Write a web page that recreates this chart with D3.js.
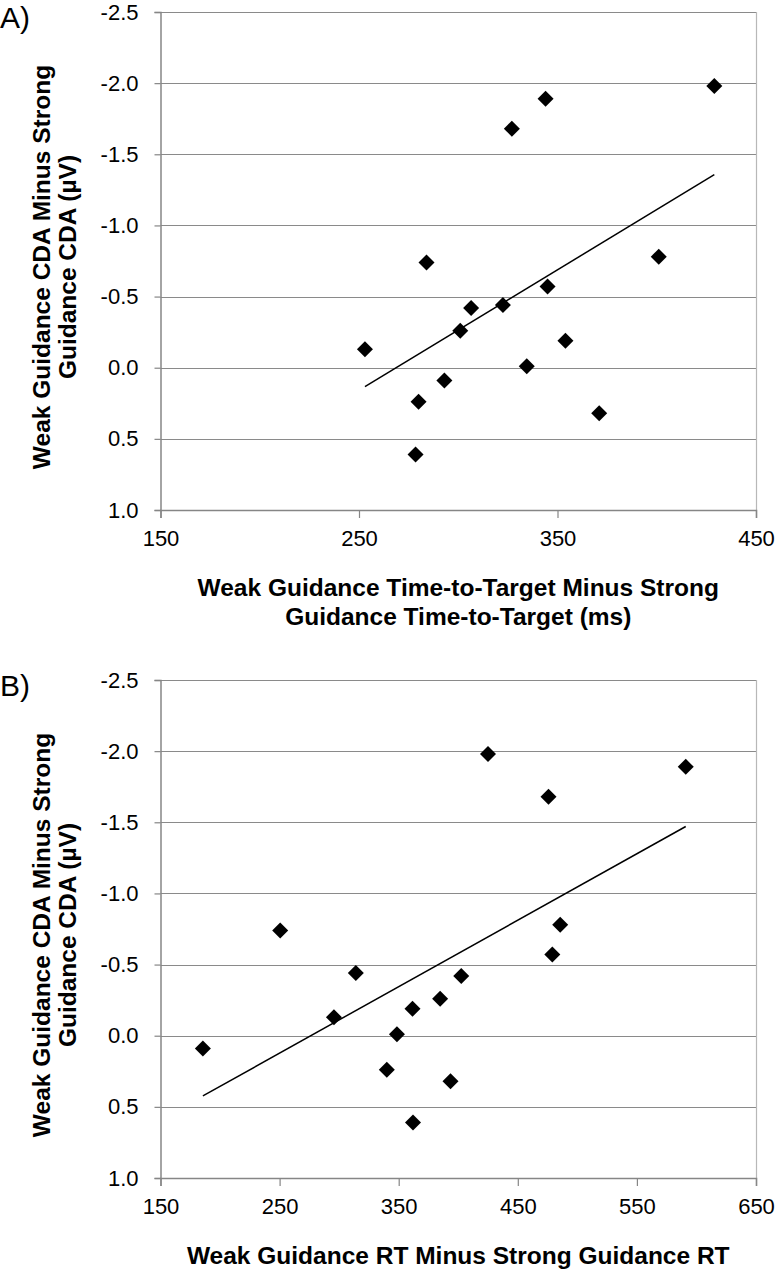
<!DOCTYPE html>
<html><head><meta charset="utf-8">
<script src="https://cdn.jsdelivr.net/npm/d3@7"></script>
<style>body{margin:0;background:#fff}svg{display:block}text{font-family:"Liberation Sans",Arial,sans-serif}</style>
</head><body>
<script>
// Panel A: Time-to-Target difference (ms) vs CDA difference (µV)
const xA = [253, 278.5, 280, 284, 293, 301, 306.5, 322.5, 327, 334.5, 344, 345, 354, 371, 401, 429];
const yA = [-0.13, 0.61, 0.24, -0.74, 0.09, -0.26, -0.42, -0.44, -1.68, -0.01, -1.89, -0.57, -0.19, 0.32, -0.78, -1.98];
// Panel B: RT difference vs CDA difference (µV)
const xB = [185.6, 250.5, 295.6, 314, 340, 348.5, 361.6, 362, 384.8, 393.5, 402.5, 425, 475.8, 479, 485.6, 591];
const yB = [0.09, -0.74, -0.13, -0.44, 0.24, -0.01, -0.19, 0.61, -0.26, 0.32, -0.42, -1.98, -1.68, -0.57, -0.78, -1.89];

const yTicks = [-2.5, -2.0, -1.5, -1.0, -0.5, 0.0, 0.5, 1.0];
const xTicksA = [150, 250, 350, 450];
const xTicksB = [150, 250, 350, 450, 550, 650];
const yTitle = ["Weak Guidance CDA Minus Strong", "Guidance CDA (µV)"];
const xTitleA = ["Weak Guidance Time-to-Target Minus Strong", "Guidance Time-to-Target (ms)"];
const xTitleB = ["Weak Guidance RT Minus Strong Guidance RT"];

const W = 776, H = 1271;
const svg = d3.select("body").append("svg").attr("width", W).attr("height", H);

function panel(opt) {
  const {label, xs, ys, xTicks, xTitle, top} = opt;
  const left = 160.5, right = 756, bottom = top + 498;
  const x = d3.scaleLinear().domain([xTicks[0], xTicks[xTicks.length - 1]]).range([left, right]);
  const y = d3.scaleLinear().domain([-2.5, 1.0]).range([top, bottom]);
  const g = svg.append("g");

  // gridlines
  g.append("g").selectAll("line").data(yTicks).join("line")
    .attr("x1", left).attr("x2", right)
    .attr("y1", d => Math.round(y(d)) + 0.5).attr("y2", d => Math.round(y(d)) + 0.5)
    .attr("stroke", "#8a8a8a").attr("stroke-width", 1.2);
  // right border
  g.append("line").attr("x1", right + 0.5).attr("x2", right + 0.5).attr("y1", top).attr("y2", bottom)
    .attr("stroke", "#b8b8b8").attr("stroke-width", 1.2);

  // y axis
  const ya = g.append("g").attr("transform", `translate(${left},0)`)
    .call(d3.axisLeft(y).tickValues(yTicks).tickFormat(d3.format(".1f")).tickSize(6).tickPadding(16));
  ya.select(".domain").attr("stroke", "#868686").attr("stroke-width", 1.5);
  ya.selectAll(".tick line").attr("stroke", "#868686").attr("stroke-width", 1.2);
  ya.selectAll(".tick text").attr("font-size", 22).attr("fill", "#000")
    .attr("font-family", "Liberation Sans, Arial, sans-serif").text(d => d3.format(".1f")(d).replace("−", "-"));

  // x axis
  const xa = g.append("g").attr("transform", `translate(0,${bottom})`)
    .call(d3.axisBottom(x).tickValues(xTicks).tickFormat(d3.format("d")).tickSize(8).tickPadding(12));
  xa.select(".domain").attr("stroke", "#868686").attr("stroke-width", 1.5);
  xa.selectAll(".tick line").attr("stroke", "#868686").attr("stroke-width", 1.2);
  xa.selectAll(".tick text").attr("font-size", 22).attr("fill", "#000")
    .attr("font-family", "Liberation Sans, Arial, sans-serif");

  // regression line
  const n = xs.length;
  const mx = d3.mean(xs), my = d3.mean(ys);
  let sxy = 0, sxx = 0;
  for (let i = 0; i < n; i++) { sxy += (xs[i] - mx) * (ys[i] - my); sxx += (xs[i] - mx) ** 2; }
  const b = sxy / sxx, a = my - b * mx;
  const x0 = d3.min(xs), x1 = d3.max(xs);
  g.append("line").attr("x1", x(x0)).attr("y1", y(a + b * x0)).attr("x2", x(x1)).attr("y2", y(a + b * x1))
    .attr("stroke", "#000").attr("stroke-width", 1.5);

  // points
  const sym = d3.symbol().type(d3.symbolSquare).size(128);
  g.append("g").selectAll("path").data(d3.range(n)).join("path")
    .attr("d", sym)
    .attr("transform", i => `translate(${x(xs[i])},${y(ys[i])}) rotate(45)`)
    .attr("fill", "#000");

  // panel label
  g.append("text").attr("x", 0).attr("y", top + 16).attr("font-size", 30).text(label);

  // y title
  const cy = (top + bottom) / 2 + 6;
  yTitle.forEach((t, i) => {
    g.append("text").attr("transform", `translate(${50 + i * 26},${cy}) rotate(-90)`)
      .attr("text-anchor", "middle").attr("font-size", 24.5).attr("font-weight", "bold").text(t);
  });
  // x title
  const cx = (left + right) / 2;
  xTitle.forEach((t, i) => {
    g.append("text").attr("x", cx).attr("y", bottom + 86 + i * 29)
      .attr("text-anchor", "middle").attr("font-size", 24.5).attr("font-weight", "bold").text(t);
  });
}

panel({label: "A)", xs: xA, ys: yA, xTicks: xTicksA, xTitle: xTitleA, top: 12});
panel({label: "B)", xs: xB, ys: yB, xTicks: xTicksB, xTitle: xTitleB, top: 680});
</script>
</body></html>
